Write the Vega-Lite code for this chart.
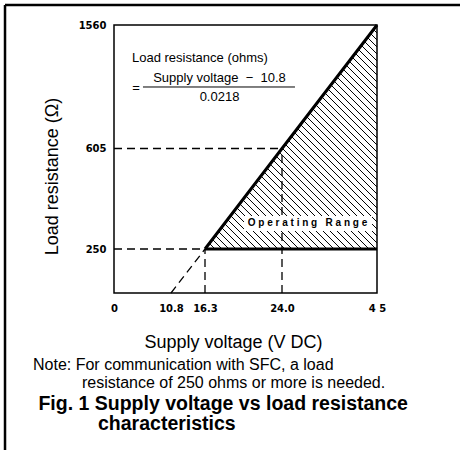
{
  "$schema": "https://vega.github.io/schema/vega-lite/v6.json",
  "width": 263,
  "height": 268,
  "autosize": {"type": "none"},
  "padding": {"left": 114, "top": 25, "right": 83, "bottom": 157},
  "background": "white",
  "config": {
    "view": {"stroke": "black", "strokeWidth": 1.5},
    "font": "Liberation Sans"
  },
  "title": {
    "text": ["Note: For communication with SFC, a load", "\u200b\u00a0\u00a0\u00a0\u00a0\u00a0\u00a0\u00a0\u00a0\u00a0\u00a0\u00a0resistance of 250 ohms or more is needed."],
    "subtitle": ["\u200b\u00a0Fig. 1 Supply voltage vs load resistance", "\u200b\u00a0\u00a0\u00a0\u00a0\u00a0\u00a0\u00a0\u00a0\u00a0\u00a0\u00a0\u00a0characteristics"],
    "orient": "bottom",
    "anchor": "start",
    "frame": "group",
    "dx": -81,
    "offset": -94,
    "baseline": "top",
    "font": "Liberation Sans",
    "fontSize": 16,
    "fontWeight": "normal",
    "color": "black",
    "lineHeight": 18,
    "subtitleFont": "Liberation Sans",
    "subtitleFontSize": 19.5,
    "subtitleFontWeight": "bold",
    "subtitleColor": "black",
    "subtitleLineHeight": 20,
    "subtitlePadding": 4
  },
  "datasets": {
    "hatch": [
      {"V": 16.43, "R": 256.0, "V2": 16.6, "R2": 250},
      {"V": 16.73, "R": 270.0, "V2": 17.3, "R2": 250},
      {"V": 17.04, "R": 284.0, "V2": 18.0, "R2": 250},
      {"V": 17.34, "R": 297.9, "V2": 18.7, "R2": 250},
      {"V": 17.65, "R": 311.9, "V2": 19.4, "R2": 250},
      {"V": 17.95, "R": 325.9, "V2": 20.1, "R2": 250},
      {"V": 18.25, "R": 339.9, "V2": 20.8, "R2": 250},
      {"V": 18.56, "R": 353.9, "V2": 21.5, "R2": 250},
      {"V": 18.86, "R": 367.9, "V2": 22.2, "R2": 250},
      {"V": 19.17, "R": 381.9, "V2": 22.9, "R2": 250},
      {"V": 19.47, "R": 395.9, "V2": 23.6, "R2": 250},
      {"V": 19.77, "R": 409.8, "V2": 24.66, "R2": 250},
      {"V": 20.08, "R": 423.8, "V2": 26.21, "R2": 250},
      {"V": 20.38, "R": 437.8, "V2": 27.76, "R2": 250},
      {"V": 20.69, "R": 451.8, "V2": 29.31, "R2": 250},
      {"V": 20.99, "R": 465.8, "V2": 30.85, "R2": 250},
      {"V": 21.30, "R": 479.8, "V2": 32.40, "R2": 250},
      {"V": 21.60, "R": 493.8, "V2": 33.95, "R2": 250},
      {"V": 21.90, "R": 507.8, "V2": 35.49, "R2": 250},
      {"V": 22.21, "R": 521.7, "V2": 37.04, "R2": 250},
      {"V": 22.51, "R": 535.7, "V2": 38.59, "R2": 250},
      {"V": 22.82, "R": 549.7, "V2": 40.14, "R2": 250},
      {"V": 23.12, "R": 563.7, "V2": 41.68, "R2": 250},
      {"V": 23.42, "R": 577.7, "V2": 43.23, "R2": 250},
      {"V": 23.73, "R": 591.7, "V2": 44.78, "R2": 250},
      {"V": 24.07, "R": 606.4, "V2": 45, "R2": 271.2},
      {"V": 24.74, "R": 637.0, "V2": 45, "R2": 295.9},
      {"V": 25.41, "R": 667.7, "V2": 45, "R2": 320.7},
      {"V": 26.09, "R": 698.3, "V2": 45, "R2": 345.4},
      {"V": 26.76, "R": 728.9, "V2": 45, "R2": 370.1},
      {"V": 27.43, "R": 759.5, "V2": 45, "R2": 394.8},
      {"V": 28.10, "R": 790.1, "V2": 45, "R2": 419.6},
      {"V": 28.77, "R": 820.8, "V2": 45, "R2": 444.3},
      {"V": 29.45, "R": 851.4, "V2": 45, "R2": 469.0},
      {"V": 30.12, "R": 882.0, "V2": 45, "R2": 493.7},
      {"V": 30.79, "R": 912.6, "V2": 45, "R2": 518.5},
      {"V": 31.46, "R": 943.2, "V2": 45, "R2": 543.2},
      {"V": 32.13, "R": 973.9, "V2": 45, "R2": 567.9},
      {"V": 32.81, "R": 1004.5, "V2": 45, "R2": 592.6},
      {"V": 33.48, "R": 1035.1, "V2": 45, "R2": 632.1},
      {"V": 34.15, "R": 1065.7, "V2": 45, "R2": 686.2},
      {"V": 34.82, "R": 1096.3, "V2": 45, "R2": 740.3},
      {"V": 35.50, "R": 1126.9, "V2": 45, "R2": 794.5},
      {"V": 36.17, "R": 1157.6, "V2": 45, "R2": 848.6},
      {"V": 36.84, "R": 1188.2, "V2": 45, "R2": 902.7},
      {"V": 37.51, "R": 1218.8, "V2": 45, "R2": 956.8},
      {"V": 38.18, "R": 1249.4, "V2": 45, "R2": 1011.0},
      {"V": 38.86, "R": 1280.0, "V2": 45, "R2": 1065.1},
      {"V": 39.53, "R": 1310.7, "V2": 45, "R2": 1119.2},
      {"V": 40.20, "R": 1341.3, "V2": 45, "R2": 1173.4},
      {"V": 40.87, "R": 1371.9, "V2": 45, "R2": 1227.5},
      {"V": 41.54, "R": 1402.5, "V2": 45, "R2": 1281.6},
      {"V": 42.22, "R": 1433.1, "V2": 45, "R2": 1335.8},
      {"V": 42.89, "R": 1463.8, "V2": 45, "R2": 1389.9},
      {"V": 43.56, "R": 1494.4, "V2": 45, "R2": 1444.0},
      {"V": 44.23, "R": 1525.0, "V2": 45, "R2": 1498.1}
    ],
    "guides": [
      {"V": 0, "R": 605, "V2": 24, "R2": 605},
      {"V": 0, "R": 250, "V2": 16.3, "R2": 250},
      {"V": 24, "R": 0, "V2": 24, "R2": 605},
      {"V": 16.3, "R": 0, "V2": 16.3, "R2": 250},
      {"V": 10.8, "R": 0, "V2": 16.3, "R2": 250}
    ],
    "fractionBar": [
      {"V": 5.49, "R": 1080.6, "V2": 26.87, "R2": 1080.6}
    ],
    "frame": [
      {"V": -20.65, "R": 1714, "V2": -20.65, "R2": -892},
      {"V": -20.65, "R": 1714, "V2": 70, "R2": 1714}
    ],
    "limits": [
      {"series": "maximum", "V": 16.3, "R": 250},
      {"series": "maximum", "V": 24, "R": 605},
      {"series": "maximum", "V": 45, "R": 1560},
      {"series": "minimum", "V": 16.3, "R": 250},
      {"series": "minimum", "V": 45, "R": 250}
    ],
    "rangeBox": [
      {"V": 20.2, "R": 366.6, "V2": 43.9, "R2": 313.6}
    ],
    "labels": [
      {"role": "formulaHead", "V": 3.41, "R": 1305, "text": "Load resistance (ohms)"},
      {"role": "formula", "V": 4.2, "R": 1075, "text": "="},
      {"role": "formula", "V": 17.75, "R": 1150, "text": "Supply voltage \u00a0\u2212\u00a0 10.8"},
      {"role": "formula", "V": 17.75, "R": 1003, "text": "0.0218"},
      {"role": "range", "V": 29.64, "R": 342, "text": "O p e r a t i n g \u00a0\u00a0R a n g e"}
    ]
  },
  "encoding": {
    "x": {
      "field": "V",
      "type": "quantitative",
      "scale": {"domain": [0, 10.8, 16.3, 24, 45], "range": [0, 57, 91, 168, 263], "nice": false, "zero": false},
      "axis": {
        "values": [0, 10.8, 16.3, 24, 45],
        "labelExpr": "datum.value == 0 ? '0' : datum.value == 45 ? '4 5' : format(datum.value, '.1f')",
        "ticks": false,
        "domain": false,
        "grid": false,
        "labelFont": "DejaVu Sans",
        "labelFontWeight": "bold",
        "labelFontSize": 10,
        "labelColor": "black",
        "labelPadding": 10,
        "labelOverlap": false,
        "labelFlush": false,
        "title": "Supply voltage (V DC)",
        "titleFont": "Liberation Sans",
        "titleFontSize": 18,
        "titleFontWeight": "normal",
        "titleColor": "black",
        "titleX": 119,
        "titleY": 49,
        "titleAlign": "center",
        "titleBaseline": "middle"
      }
    },
    "y": {
      "field": "R",
      "type": "quantitative",
      "scale": {"domain": [0, 250, 605, 1560], "range": [268, 224, 123.5, 0], "nice": false, "zero": false},
      "axis": {
        "values": [250, 605, 1560],
        "format": "d",
        "ticks": false,
        "domain": false,
        "grid": false,
        "labelFont": "DejaVu Sans",
        "labelFontWeight": "bold",
        "labelFontSize": 10,
        "labelColor": "black",
        "labelPadding": 8,
        "labelOverlap": false,
        "labelFlush": false,
        "title": "Load resistance (\u03a9)",
        "titleFont": "Liberation Sans",
        "titleFontSize": 18,
        "titleFontWeight": "normal",
        "titleColor": "black",
        "titleAngle": 270,
        "titleX": -62,
        "titleY": 151,
        "titleAlign": "center",
        "titleBaseline": "middle"
      }
    }
  },
  "layer": [
    {
      "data": {"name": "hatch"},
      "mark": {"type": "rule", "color": "black", "strokeWidth": 1},
      "encoding": {"x2": {"field": "V2"}, "y2": {"field": "R2"}}
    },
    {
      "data": {"name": "guides"},
      "mark": {"type": "rule", "color": "black", "strokeWidth": 1.3, "strokeDash": [8, 5]},
      "encoding": {"x2": {"field": "V2"}, "y2": {"field": "R2"}}
    },
    {
      "data": {"name": "limits"},
      "mark": {"type": "line", "color": "black", "strokeWidth": 3},
      "encoding": {"detail": {"field": "series"}}
    },
    {
      "data": {"name": "rangeBox"},
      "mark": {"type": "rect", "color": "white"},
      "encoding": {"x2": {"field": "V2"}, "y2": {"field": "R2"}}
    },
    {
      "data": {"name": "labels"},
      "transform": [{"filter": "datum.role == 'range'"}],
      "mark": {"type": "text", "font": "Liberation Sans", "fontWeight": "bold", "fontSize": 10, "align": "center", "baseline": "middle", "color": "black"},
      "encoding": {"text": {"field": "text"}}
    },
    {
      "data": {"name": "labels"},
      "transform": [{"filter": "datum.role == 'formulaHead'"}],
      "mark": {"type": "text", "font": "Liberation Sans", "fontSize": 13, "align": "left", "baseline": "middle", "color": "black"},
      "encoding": {"text": {"field": "text"}}
    },
    {
      "data": {"name": "labels"},
      "transform": [{"filter": "datum.role == 'formula'"}],
      "mark": {"type": "text", "font": "Liberation Sans", "fontSize": 13, "align": "center", "baseline": "middle", "color": "black"},
      "encoding": {"text": {"field": "text"}}
    },
    {
      "data": {"name": "fractionBar"},
      "mark": {"type": "rule", "color": "black", "strokeWidth": 1},
      "encoding": {"x2": {"field": "V2"}, "y2": {"field": "R2"}}
    },
    {
      "data": {"name": "frame"},
      "mark": {"type": "rule", "color": "black", "strokeWidth": 2.5},
      "encoding": {"x2": {"field": "V2"}, "y2": {"field": "R2"}}
    }
  ]
}
